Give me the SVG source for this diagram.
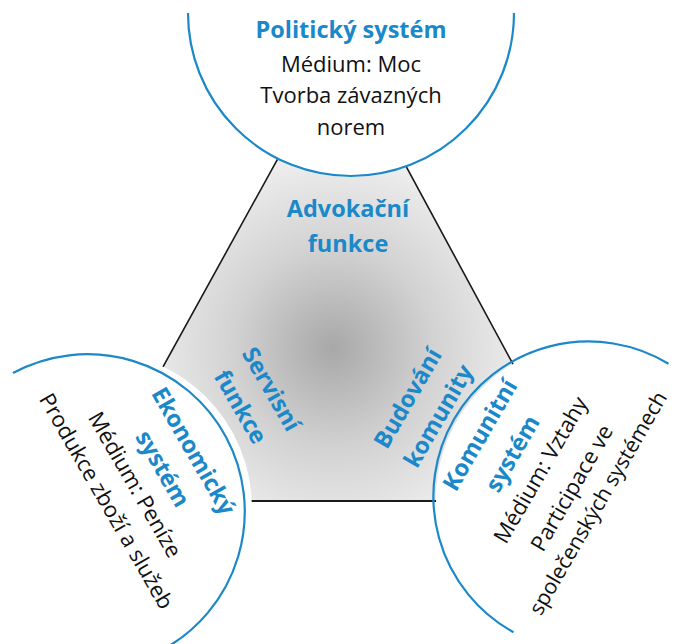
<svg xmlns="http://www.w3.org/2000/svg" width="673" height="644" viewBox="0 0 673 644">
  <defs>
    <radialGradient id="grey" gradientUnits="userSpaceOnUse" cx="333" cy="348" r="200">
      <stop offset="0" stop-color="#a8a8a8"/>
      <stop offset="0.5" stop-color="#d2d2d2"/>
      <stop offset="1" stop-color="#f0f0f0"/>
    </radialGradient>
    <style>
      .disc { fill: #ffffff; stroke: none; }
      .rim { fill: none; stroke: #1a88c9; stroke-width: 2.2; }
      .title { font-family: "Open Sans", "Liberation Sans", sans-serif; font-weight: bold; font-size: 23.5px; fill: #1a88c9; text-anchor: middle; }
      .body { font-family: "Open Sans", "Liberation Sans", sans-serif; font-size: 22px; fill: #111111; text-anchor: middle; }
    </style>
  </defs>
  <rect width="673" height="644" fill="#ffffff"/>

  <g id="functions">
    <polygon points="340.5,45 89,501 587,501" fill="url(#grey)" stroke="#1a1a1a" stroke-width="1.6" stroke-linejoin="miter"/>
    <line x1="240" y1="501" x2="450" y2="501" stroke="#1a1a1a" stroke-width="2.2"/>
    <text class="title"><tspan x="348" y="217">Advokační</tspan><tspan x="348" y="252">funkce</tspan></text>
    <g transform="translate(256,398) rotate(60)">
      <text class="title"><tspan x="0" y="-9.5">Servisní</tspan><tspan x="0" y="26">funkce</tspan></text>
    </g>
    <g transform="translate(423,407) rotate(-60)">
      <text class="title"><tspan x="0" y="-9.5">Budování</tspan><tspan x="0" y="26">komunity</tspan></text>
    </g>
  </g>

  <g id="connectors"></g>

  <g id="political">
    <circle class="disc" cx="351" cy="14" r="163"/>
    <path class="rim" d="M188,13 A163,163 0 1,0 514,13"/>
    <text class="title" x="351" y="38">Politický systém</text>
    <text class="body"><tspan x="351" y="72">Médium: Moc</tspan><tspan x="351" y="103">Tvorba závazných</tspan><tspan x="351" y="135">norem</tspan></text>
  </g>

  <g id="economic">
    <circle class="disc" cx="95" cy="508" r="157"/>
    <path class="rim" d="M13,373 A157,157 0 1,1 162,650"/>
    <g transform="translate(150,476) rotate(60)">
      <text class="title"><tspan x="0" y="-42">Ekonomický</tspan><tspan x="0" y="-6.5">systém</tspan></text>
      <text class="body"><tspan x="0" y="25">Médium: Peníze</tspan><tspan x="0" y="58">Produkce zboží a služeb</tspan></text>
    </g>
  </g>

  <g id="community">
    <circle class="disc" cx="591" cy="498" r="155"/>
    <path class="rim" d="M668.5,363.8 A155,155 0 1,0 513.5,632.2"/>
    <g transform="translate(539,469) rotate(-60)">
      <text class="title"><tspan x="0" y="-60">Komunitní</tspan><tspan x="0" y="-22.5">systém</tspan></text>
      <text class="body"><tspan x="0" y="9.5">Médium: Vztahy</tspan><tspan x="0" y="45.5">Participace ve</tspan><tspan x="0" y="75.5" font-size="21.2px">společenských systémech</tspan></text>
    </g>
  </g>
</svg>
